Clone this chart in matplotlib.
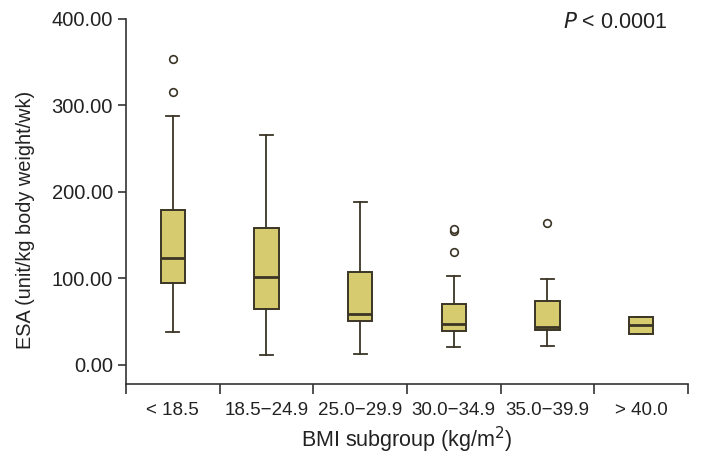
import matplotlib
matplotlib.use('Agg')
import matplotlib.pyplot as plt

plt.rcParams['font.family'] = ['Liberation Sans', 'DejaVu Sans']

groups = ['< 18.5', '18.5\u221224.9', '25.0\u221229.9', '30.0\u221234.9', '35.0\u221239.9', '> 40.0']
whislo = [37.8, 11.9, 12.4, 21.2, 22.3, 35.8]
q1 = [95.1, 64.7, 50.9, 39.7, 40.1, 35.8]
med = [123.7, 101.4, 58.6, 47.4, 43.6, 45.9]
q3 = [179.2, 158.0, 107.2, 70.9, 74.3, 55.5]
whishi = [287.9, 266.0, 188.8, 103.2, 99.4, 55.5]
fliers = [[353.8, 315.3], [], [], [155.0, 157.5, 130.6], [163.8], []]

stats = []
for i in range(len(groups)):
    stats.append({'whislo': whislo[i], 'q1': q1[i], 'med': med[i], 'q3': q3[i],
                  'whishi': whishi[i], 'fliers': fliers[i]})

edge = '#3b3526'
fig = plt.figure(figsize=(7.02, 4.68), dpi=100)
ax = fig.add_axes([0.1795, 0.1795, 0.8005, 0.78])

ax.bxp(stats, positions=range(len(groups)), widths=0.26, capwidths=0.14,
       patch_artist=True, showfliers=True,
       boxprops=dict(facecolor='#d7cb6f', edgecolor=edge, linewidth=1.4),
       medianprops=dict(color=edge, linewidth=2.0),
       whiskerprops=dict(color=edge, linewidth=1.3),
       capprops=dict(color=edge, linewidth=1.3),
       flierprops=dict(marker='o', markersize=5.5, markerfacecolor='white',
                       markeredgecolor=edge, markeredgewidth=1.2))

ax.set_xlim(-0.5, 5.5)
ax.set_ylim(-22, 400)
ax.set_yticks([0, 100, 200, 300, 400])
ax.set_yticklabels(['0.00', '100.00', '200.00', '300.00', '400.00'])

ax.set_xticks([i - 0.5 for i in range(len(groups) + 1)])
ax.set_xticklabels([])
ax.set_xticks(range(len(groups)), minor=True)
ax.set_xticklabels(groups, minor=True)
ax.tick_params(axis='x', which='major', length=7, width=1.2, color='#333333')
ax.tick_params(axis='x', which='minor', length=0, pad=13, labelsize=13.5, labelcolor='#222222')
ax.tick_params(axis='y', length=6, width=1.2, color='#333333', labelsize=14.5, labelcolor='#222222')

for s in ['top', 'right']:
    ax.spines[s].set_visible(False)
for s in ['left', 'bottom']:
    ax.spines[s].set_linewidth(1.2)
    ax.spines[s].set_color('#333333')

ax.set_ylabel('ESA (unit/kg body weight/wk)', fontsize=14.3, color='#222222')
ax.yaxis.set_label_coords(-0.162, 0.45)
ax.set_xlabel('BMI subgroup (kg/m$^2$)', fontsize=15.5, color='#222222', labelpad=4)

ax.text(0.963, 0.99, r'$P$ < 0.0001', transform=ax.transAxes, ha='right', va='center',
        fontsize=15.5, color='#222222')

plt.savefig('out.png', dpi=100)
